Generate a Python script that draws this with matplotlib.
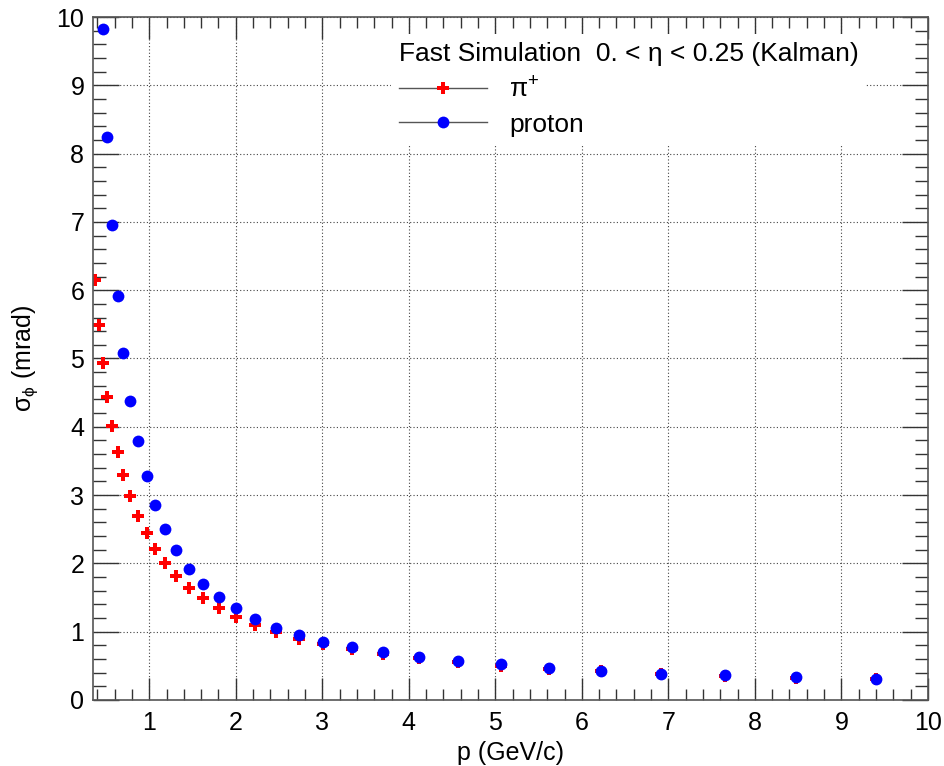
import matplotlib
matplotlib.use('Agg')
import matplotlib.pyplot as plt
from matplotlib.lines import Line2D
from matplotlib.ticker import MultipleLocator

# momentum grid (GeV/c) and phi resolution (mrad)
p_pion = [0.373, 0.42, 0.466, 0.516, 0.573, 0.636, 0.70, 0.78, 0.87, 0.97,
          1.07, 1.18, 1.31, 1.46, 1.62, 1.81, 2.0, 2.22, 2.47, 2.73,
          3.01, 3.34, 3.70, 4.12, 4.57, 5.07, 5.62, 6.22, 6.91, 7.65, 8.48, 9.40]
sig_pion = [6.15, 5.49, 4.94, 4.44, 4.01, 3.63, 3.29, 2.98, 2.70, 2.45,
            2.21, 2.00, 1.82, 1.64, 1.49, 1.34, 1.22, 1.10, 1.00, 0.90,
            0.82, 0.74, 0.68, 0.61, 0.55, 0.50, 0.46, 0.42, 0.38, 0.35, 0.32, 0.30]

p_proton = [0.466, 0.516, 0.573, 0.636, 0.70, 0.78, 0.87, 0.97,
            1.07, 1.18, 1.31, 1.46, 1.62, 1.81, 2.0, 2.22, 2.47, 2.73,
            3.01, 3.34, 3.70, 4.12, 4.57, 5.07, 5.62, 6.22, 6.91, 7.65, 8.48, 9.40]
sig_proton = [9.82, 8.24, 6.96, 5.92, 5.08, 4.38, 3.79, 3.28,
              2.86, 2.50, 2.19, 1.92, 1.70, 1.51, 1.34, 1.19, 1.06, 0.95,
              0.85, 0.77, 0.70, 0.63, 0.57, 0.52, 0.47, 0.43, 0.385, 0.36, 0.33, 0.31]

legend_title = "Fast Simulation  0. < η < 0.25 (Kalman)"
labels = [r"π$^{+}$", "proton"]

plt.rcParams['font.family'] = ['Liberation Sans', 'DejaVu Sans']
plt.rcParams['mathtext.fontset'] = 'custom'
plt.rcParams['mathtext.rm'] = 'Liberation Sans'
plt.rcParams['mathtext.it'] = 'Liberation Sans'

fig = plt.figure(figsize=(9.44, 7.66), dpi=100)
ax = fig.add_axes([0.0982, 0.0862, 0.8847, 0.8916])

ax.plot(p_pion, sig_pion, linestyle='none', marker='P', color='red',
        markersize=9, markeredgewidth=0)
ax.plot(p_proton, sig_proton, linestyle='none', marker='o', color='blue',
        markersize=8.5, markeredgewidth=0)

ax.set_xlim(0.346, 10)
ax.set_ylim(0, 10)
ax.xaxis.set_major_locator(MultipleLocator(1))
ax.xaxis.set_minor_locator(MultipleLocator(0.2))
ax.yaxis.set_major_locator(MultipleLocator(1))
ax.yaxis.set_minor_locator(MultipleLocator(0.2))

ax.tick_params(which='both', direction='in', top=True, right=True,
               labelsize=18, width=1, color='#333333')
ax.tick_params(axis='x', which='major', length=15.6, pad=8)
ax.tick_params(axis='x', which='minor', length=7.8)
ax.tick_params(axis='y', which='major', length=18.5, pad=6)
ax.tick_params(axis='y', which='minor', length=9.3)
for s in ax.spines.values():
    s.set_color('#555555')
    s.set_linewidth(1.2)

ax.grid(True, which='major', color='#444444', linestyle=(0, (1, 2)), linewidth=0.8)

ax.set_xlabel("p (GeV/c)", fontsize=18, labelpad=4)
ax.set_ylabel(r"σ$_{ϕ}$ (mrad)", fontsize=18, labelpad=12)

handles = [
    Line2D([], [], color='#555555', linewidth=1, marker='P', markersize=9,
           markerfacecolor='red', markeredgewidth=0),
    Line2D([], [], color='#555555', linewidth=1, marker='o', markersize=8.5,
           markerfacecolor='blue', markeredgewidth=0),
]
leg = ax.legend(handles, labels, title=legend_title, loc='upper left',
                bbox_to_anchor=(0.341, 0.994), fontsize=19, title_fontsize=19,
                frameon=True, fancybox=False, edgecolor='none', facecolor='white',
                framealpha=1, handlelength=3.35, handletextpad=0.85,
                labelspacing=0.4, borderpad=0.3, alignment='left')

fig.savefig('out.png', dpi=100)
